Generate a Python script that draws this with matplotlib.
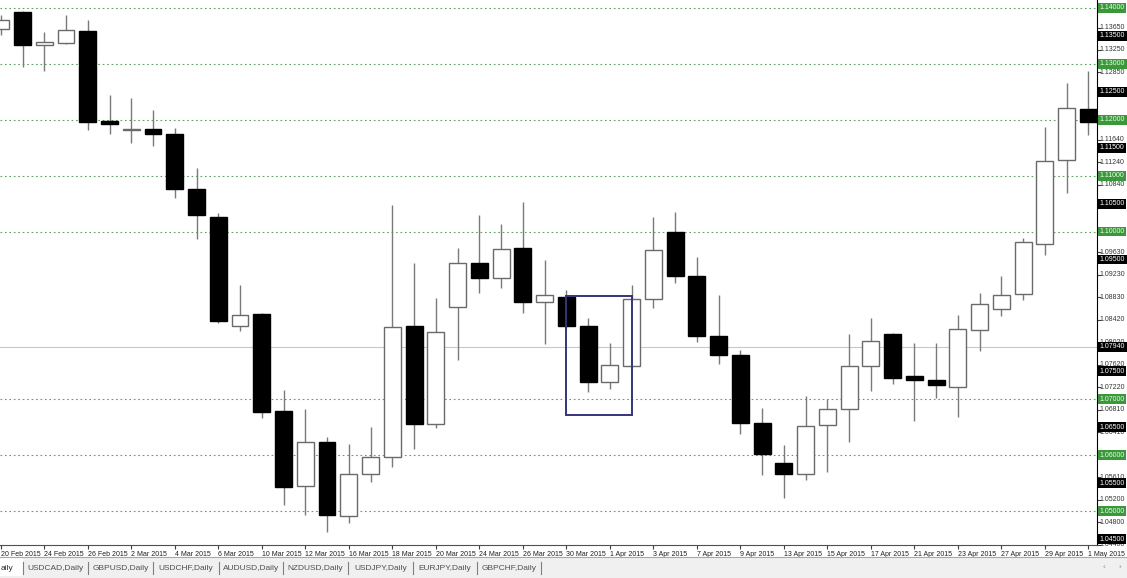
import matplotlib
matplotlib.use("Agg")
import matplotlib.pyplot as plt
import matplotlib.patches as patches
import matplotlib.lines as mlines

plt.rcParams["font.family"] = ["Liberation Sans", "DejaVu Sans"]

# EURUSD daily, 20 Feb 2015 .. 1 May 2015
dates = [
    "20 Feb 2015", "23 Feb 2015", "24 Feb 2015", "25 Feb 2015", "26 Feb 2015", "27 Feb 2015",
    "2 Mar 2015", "3 Mar 2015", "4 Mar 2015", "5 Mar 2015", "6 Mar 2015",
    "9 Mar 2015", "10 Mar 2015", "11 Mar 2015", "12 Mar 2015", "13 Mar 2015",
    "16 Mar 2015", "17 Mar 2015", "18 Mar 2015", "19 Mar 2015", "20 Mar 2015",
    "23 Mar 2015", "24 Mar 2015", "25 Mar 2015", "26 Mar 2015", "27 Mar 2015",
    "30 Mar 2015", "31 Mar 2015", "1 Apr 2015", "2 Apr 2015", "3 Apr 2015",
    "6 Apr 2015", "7 Apr 2015", "8 Apr 2015", "9 Apr 2015", "10 Apr 2015",
    "13 Apr 2015", "14 Apr 2015", "15 Apr 2015", "16 Apr 2015", "17 Apr 2015",
    "20 Apr 2015", "21 Apr 2015", "22 Apr 2015", "23 Apr 2015", "24 Apr 2015",
    "27 Apr 2015", "28 Apr 2015", "29 Apr 2015", "30 Apr 2015", "1 May 2015",
]
opens = [
    1.13624, 1.13928, 1.13338, 1.13374, 1.13589, 1.11979,
    1.11818, 1.11835, 1.11746, 1.10762, 1.10261,
    1.08311, 1.08526, 1.06791, 1.05449, 1.06236,
    1.04912, 1.05664, 1.05968, 1.08311, 1.06558,
    1.08651, 1.09438, 1.09170, 1.09707, 1.08741,
    1.08830, 1.08311, 1.07310, 1.07596, 1.08794,
    1.09993, 1.09206, 1.08133, 1.07793, 1.06576,
    1.05861, 1.05664, 1.06540, 1.06827, 1.07596,
    1.08168, 1.07417, 1.07345, 1.07220, 1.08240,
    1.08615, 1.08884, 1.09778, 1.11281, 1.12193,
]
highs = [
    1.13875, 1.13946, 1.13571, 1.13875, 1.13785, 1.12444,
    1.12390, 1.12175, 1.11853, 1.11138, 1.10333,
    1.09045, 1.08544, 1.07167, 1.06827, 1.06326,
    1.06200, 1.06505, 1.10476, 1.09438, 1.08812,
    1.09707, 1.10297, 1.10136, 1.10530, 1.09492,
    1.08955, 1.08455, 1.08007, 1.09045, 1.10261,
    1.10351, 1.09546, 1.08866, 1.07882, 1.06845,
    1.06182, 1.07059, 1.07005, 1.08168, 1.08454,
    1.08186, 1.08007, 1.08007, 1.08508, 1.08902,
    1.09206, 1.09886, 1.11871, 1.12658, 1.12873,
]
lows = [
    1.13517, 1.12945, 1.12873, 1.13356, 1.11818, 1.11746,
    1.11585, 1.11531, 1.10601, 1.09868, 1.08365,
    1.08222, 1.06666, 1.05109, 1.04930, 1.04626,
    1.04787, 1.05521, 1.05789, 1.06111, 1.06487,
    1.07703, 1.08902, 1.08991, 1.08544, 1.07989,
    1.08276, 1.07131, 1.07184, 1.07578, 1.08633,
    1.09081, 1.08025, 1.07632, 1.06379, 1.05646,
    1.05235, 1.05557, 1.05700, 1.06236, 1.07149,
    1.07274, 1.06612, 1.07023, 1.06683, 1.07864,
    1.08490, 1.08776, 1.09581, 1.10691, 1.11728,
]
closes = [
    1.13785, 1.13338, 1.13392, 1.13606, 1.11961, 1.11925,
    1.11835, 1.11746, 1.10762, 1.10297, 1.08401,
    1.08508, 1.06773, 1.05431, 1.06236, 1.04930,
    1.05664, 1.05968, 1.08293, 1.06558, 1.08204,
    1.09438, 1.09170, 1.09689, 1.08741, 1.08866,
    1.08311, 1.07310, 1.07614, 1.08794, 1.09671,
    1.09206, 1.08133, 1.07793, 1.06576, 1.06021,
    1.05664, 1.06522, 1.06827, 1.07596, 1.08043,
    1.07381, 1.07345, 1.07256, 1.08258, 1.08705,
    1.08866, 1.09814, 1.11263, 1.12211, 1.11961,
]

# price scale labels on the right
scale_labels = [1.13650, 1.13250, 1.12850, 1.12450, 1.11640, 1.11240, 1.10840, 1.10430,
                1.09630, 1.09230, 1.08830, 1.08420, 1.08020, 1.07620, 1.07220, 1.06810,
                1.06410, 1.05610, 1.05200, 1.04800, 1.04400]
green_levels = [1.14, 1.13, 1.12, 1.11, 1.10, 1.07, 1.06, 1.05]
black_levels = [1.135, 1.125, 1.115, 1.105, 1.095, 1.0794, 1.075, 1.065, 1.055, 1.045]
bid_price = 1.0794
box_t0, box_t1 = 26, 29
box_lo, box_hi = 1.0672, 1.0885

tabs = ["USDCAD,Daily", "GBPUSD,Daily", "USDCHF,Daily", "AUDUSD,Daily",
        "NZDUSD,Daily", "USDJPY,Daily", "EURJPY,Daily", "GBPCHF,Daily"]

W, H = 1127, 578
fig = plt.figure(figsize=(W / 100, H / 100), dpi=100)
fig.patch.set_facecolor("white")
ax = fig.add_axes([0, 33 / H, 1097 / W, 1 - 33 / H])
ax.set_facecolor("white")

ax.set_xlim(-0.0345, 50.40)
ax.set_ylim(1.04394, 1.14143)

# grid levels and bid line
for lv in green_levels:
    ax.axhline(lv, color="#5f9f5f", ls=(0, (1.5, 2.5)), lw=0.8, zorder=1)
ax.axhline(bid_price, color="#c8c8c8", lw=0.8, zorder=1)

# candles
xs = list(range(len(dates)))
ax.vlines(xs, lows, highs, color="#7a7a7a", lw=1, zorder=2)
for i in xs:
    o, c = opens[i], closes[i]
    up = c >= o
    ax.bar(i, max(abs(c - o), 0.00004), bottom=min(o, c), width=0.78,
           color="white" if up else "black",
           edgecolor="#6a6a6a" if up else "black", lw=1, zorder=3)

ax.add_patch(patches.Rectangle((box_t0, box_lo), box_t1 - box_t0, box_hi - box_lo,
                               fill=False, ec="#34347e", lw=1.4, zorder=4))

# spines / ticks
for s in ["top", "left"]:
    ax.spines[s].set_visible(False)
ax.spines["right"].set_color("black")
ax.spines["bottom"].set_color("#505050")
ax.yaxis.tick_right()
ax.set_yticks(scale_labels + green_levels + black_levels)
ax.set_yticklabels([])
ax.tick_params(axis="y", length=3, width=0.8, color="#404040")
ax.set_xticks(xs[::2])
ax.set_xticklabels(dates[::2], fontsize=5, color="#202020")
for t in ax.get_xticklabels():
    t.set_ha("left")
ax.tick_params(axis="x", length=3, width=0.8, color="#404040", pad=1.5)

ytr = ax.get_yaxis_transform()
for v in scale_labels:
    ax.text(1.0025, v, f"{v:.5f}", transform=ytr, fontsize=5, color="#333333",
            va="center", ha="left", clip_on=False, zorder=5)
for v in green_levels:
    ax.text(1.0025, v, f"{v:.5f}", transform=ytr, fontsize=5, color="#e8ffe8",
            va="center", ha="left", clip_on=False, zorder=6,
            bbox=dict(boxstyle="square,pad=0.2", fc="#3a983a", ec="none"))
for v in black_levels:
    ax.text(1.0025, v, f"{v:.5f}", transform=ytr, fontsize=5, color="white",
            va="center", ha="left", clip_on=False, zorder=7,
            bbox=dict(boxstyle="square,pad=0.2", fc="black", ec="none"))

# tab bar
fig.add_artist(patches.Rectangle((0, 0), 1, 21 / H, transform=fig.transFigure,
                                 fc="#f0f0f0", ec="none"))
fig.add_artist(patches.Rectangle((0, 2 / H), 23 / W, 19 / H, transform=fig.transFigure,
                                 fc="white", ec="none"))
fig.add_artist(mlines.Line2D([0, 1], [21 / H, 21 / H], transform=fig.transFigure,
                             color="#a8a8a8", lw=0.8))
fig.text(1 / W, 10 / H, "aily", fontsize=6, color="#303030", va="center", ha="left")
seps = [23, 88, 153, 219, 283, 348, 413, 477, 541]
for k, name in enumerate(tabs):
    cx = (seps[k] + seps[k + 1]) / 2
    fig.text(cx / W, 10 / H, name, fontsize=6, color="#505050", va="center", ha="center")
for sx in seps:
    fig.add_artist(mlines.Line2D([sx / W, sx / W], [4 / H, 16 / H], transform=fig.transFigure,
                                 color="#808080", lw=0.8))
fig.text(1104 / W, 10 / H, "\u2039", fontsize=6, color="#909090", va="center", ha="center")
fig.text(1120 / W, 10 / H, "\u203a", fontsize=6, color="#909090", va="center", ha="center")

fig.savefig("out.png", dpi=100, facecolor="white")
